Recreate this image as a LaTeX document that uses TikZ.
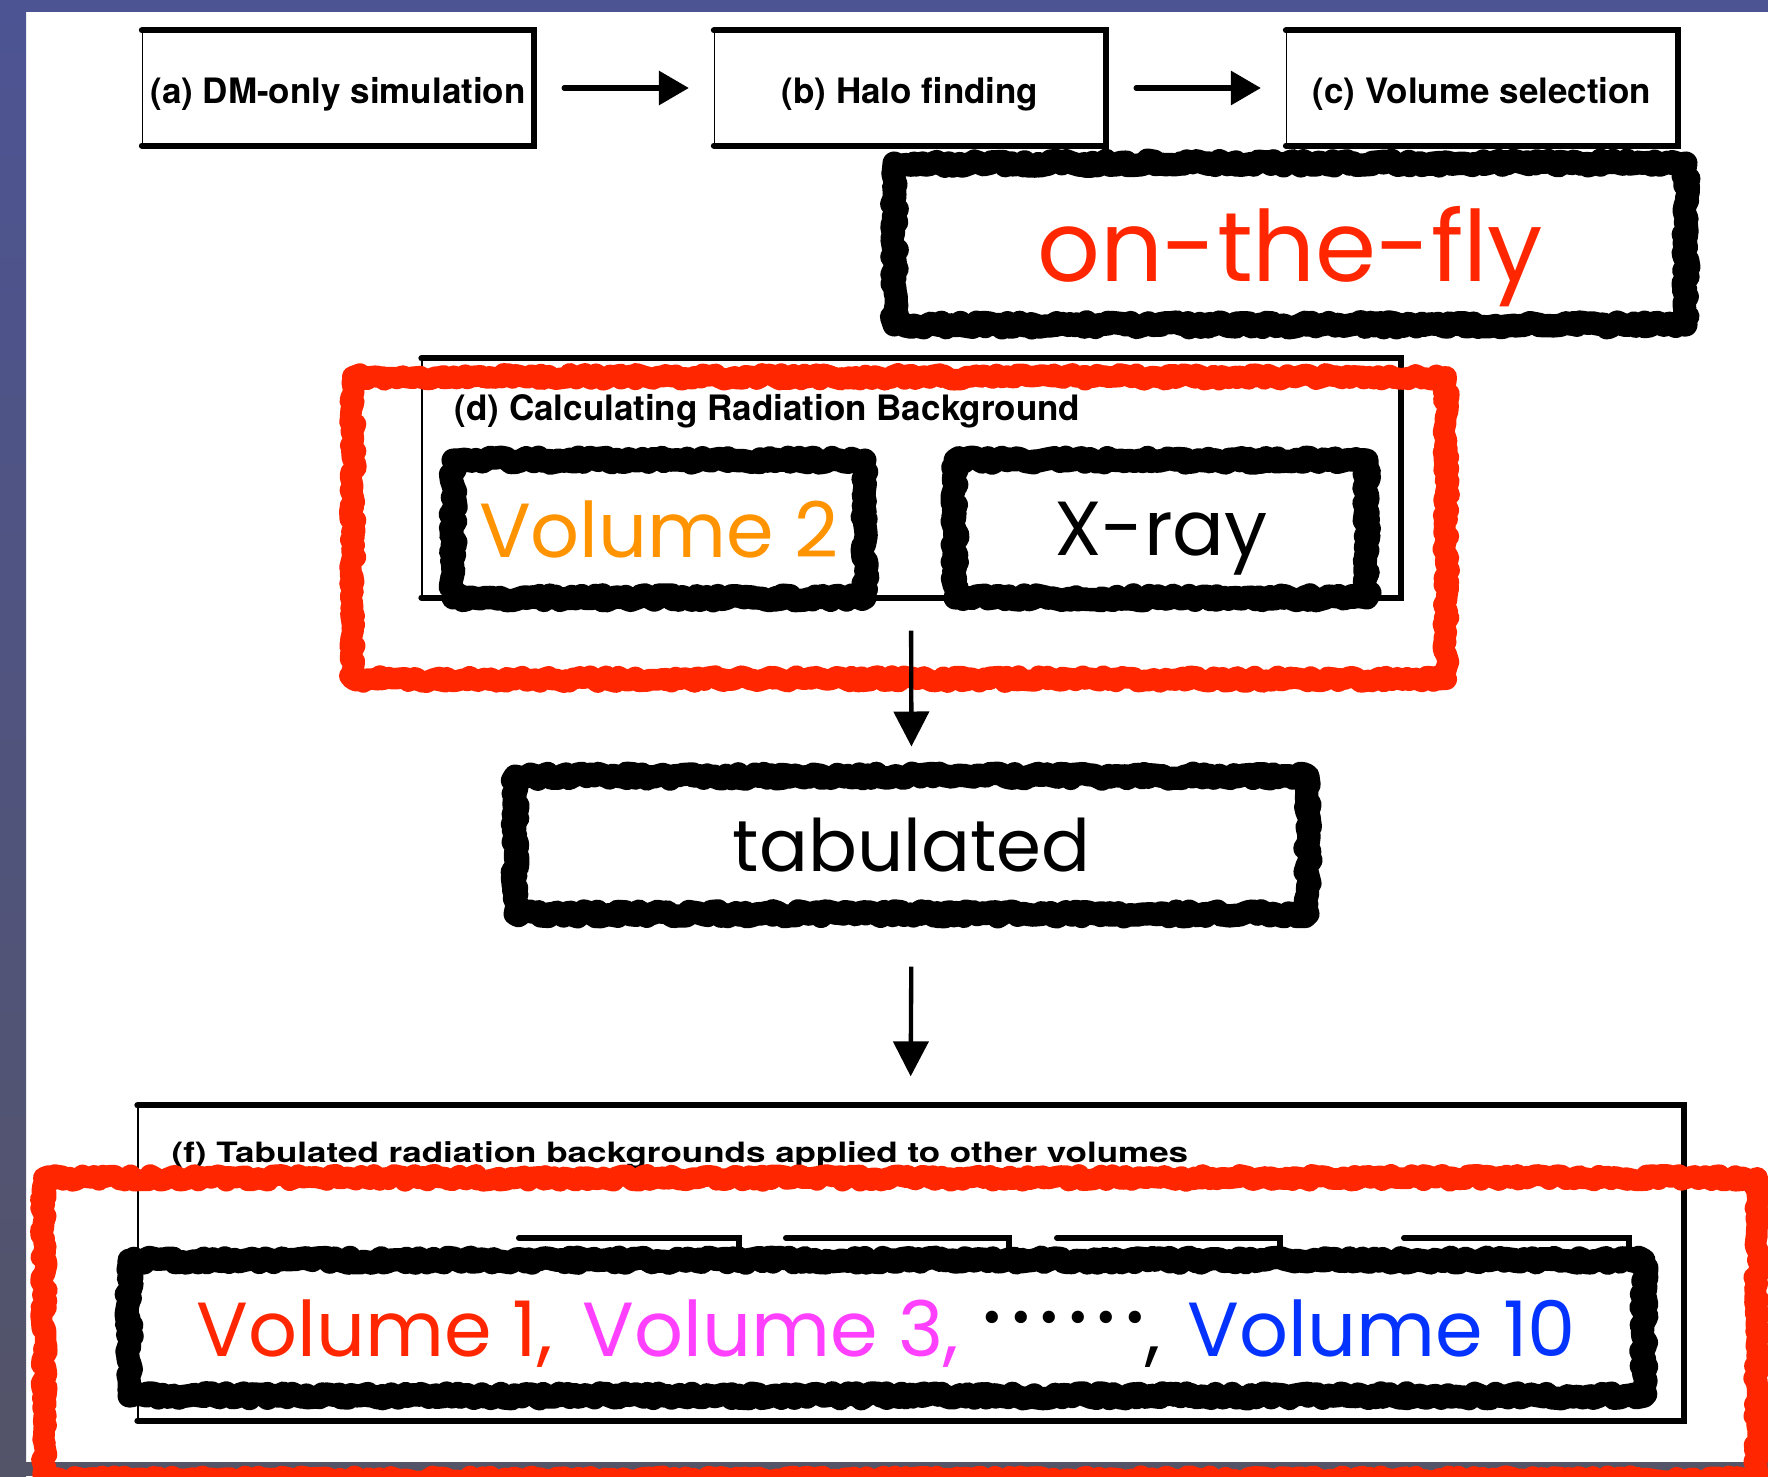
\documentclass[tikz,border=0pt]{standalone}
\usepackage{fontspec}
\setmainfont{TeX Gyre Heros}
\newfontfamily\roundfont{Poppins}
\usetikzlibrary{arrows.meta,decorations.pathmorphing}

\definecolor{slideblue}{RGB}{77,84,147}
\definecolor{slidegray}{RGB}{83,84,104}
\definecolor{keyred}{RGB}{255,38,0}
\definecolor{keyorange}{RGB}{255,147,0}
\definecolor{keymagenta}{RGB}{255,64,255}
\definecolor{keyblue}{RGB}{4,51,255}

\tikzset{
  stage/.style={draw, line width=0.4pt, inner sep=0pt, font=\fontsize{10.5}{12}\selectfont\bfseries},
  heavy/.style={line width=1.8pt, line cap=round},
  roughbox/.style={draw, line width=7pt, line join=round, inner sep=0pt, decorate,
    decoration={random steps, segment length=1.2pt, amplitude=0.9pt}},
  redframe/.style={roughbox, draw=keyred, line width=6.5pt},
  bigtext/.style={font=\roundfont\fontsize{23}{27}\selectfont, text depth=0pt},
  sideflow/.style={-{Triangle[length=9pt,width=10pt]}, line width=1.6pt, line cap=round},
  downflow/.style={-{Triangle[length=10.5pt,width=10.5pt]}, line width=1.3pt},
}

\begin{document}
\begin{tikzpicture}[x=0.3pt, y=-0.3pt]
    \pgfmathsetseed{3}
    \useasboundingbox (0,0) rectangle (1768,1476);
    \clip (0,0) rectangle (1768,1476);

    % Slide background
    \fill[white] (0,0) rectangle (1768,1476);
    \fill[slideblue] (0,0) rectangle (1768,12);
    \shade[top color=slideblue, bottom color=slidegray] (0,0) rectangle (26,1476);
    \fill[slidegray] (0,1462) rectangle (1768,1476);

    % Pipeline stages
    \node[stage, minimum width=117.3pt, minimum height=34.2pt] (sim) at (338,88) {};
    \node[stage, minimum width=117.3pt, minimum height=34.2pt] (halo) at (910,88) {};
    \node[stage, minimum width=117.3pt, minimum height=34.2pt] (select) at (1482,88) {};
    \node[stage, draw=none] (simtext) at (338,94) {(a) DM-only simulation};
    \node[stage, draw=none] (halotext) at (910,94) {(b) Halo finding};
    \node[stage, draw=none] (selecttext) at (1482,94) {(c) Volume selection};
    \foreach \n in {sim,halo,select}
        \draw[heavy] (\n.north west) -- (\n.north east) -- (\n.south east) -- (\n.south west);

    \draw[sideflow, shorten <=9pt, shorten >=7.5pt] (sim) -- (halo);
    \draw[sideflow, shorten <=9pt, shorten >=7.5pt] (halo) -- (select);

    \node[roughbox, minimum width=237.5pt, minimum height=48.5pt, bigtext,
          font=\roundfont\fontsize{29.5}{34}\selectfont, text=keyred] (fly) at (1290,244) {on-the-fly};

    % (d) radiation background
    \node[draw, line width=0.4pt, minimum width=293.4pt, minimum height=71.4pt] (calc) at (911,478) {};
    \draw[heavy] (calc.north west) -- (calc.north east) -- (calc.south east) -- (calc.south west);
    \node[anchor=west, inner sep=0pt, font=\fontsize{10.5}{12}\selectfont\bfseries] (calclabel) at (454,411) {(d) Calculating Radiation Background};
    \node[redframe, minimum width=328pt, minimum height=90.7pt] (calcred) at (899.5,528) {};
    \node[roughbox, minimum width=123.5pt, minimum height=41.3pt, bigtext, text=keyorange] (vol2) at (659,529) {Volume 2};
    \node[roughbox, minimum width=123.5pt, minimum height=41.3pt, bigtext] (xray) at (1161,529) {X-ray};

    \node[roughbox, minimum width=237.8pt, minimum height=41.3pt, bigtext,
          font=\roundfont\fontsize{21.7}{26}\selectfont] (tab) at (911.5,845) {tabulated};

    % (f) applied to other volumes
    \node[draw, line width=0.4pt, minimum width=463.5pt, minimum height=94.2pt] (apply) at (910.5,1263) {};
    \draw[heavy] (apply.north west) -- (apply.north east) -- (apply.south east) -- (apply.south west);
    \node[anchor=west, inner sep=0pt, font=\fontsize{10.5}{12}\selectfont\bfseries] (applylabel) at (171,1155)
        {\scalebox{1}[0.8]{(f) Tabulated radiation backgrounds applied to other volumes}};
    \foreach \xa/\xb in {519/739, 786/1009, 1057/1280, 1404/1629}
        \draw[heavy] (\xa,1238) -- (\xb,1238) -- (\xb,1252);
    \node[roughbox, minimum width=454.4pt, minimum height=40.7pt, bigtext] (vols) at (886.5,1328)
        {{\color{keyred}Volume 1,}\hspace{9pt}{\color{keymagenta}Volume 3,}\hspace{7pt}\raisebox{1.5pt}{{\fontsize{30}{30}\selectfont ·\kern2.2pt·\kern2.2pt·\kern2.2pt·\kern2.2pt·\kern2.2pt·}},\hspace{8pt}{\color{keyblue}Volume 10}};
    \node[redframe, minimum width=514pt, minimum height=90.4pt] (applyred) at (900.5,1328.5) {};

    \draw[downflow, shorten <=9.9pt, shorten >=5.4pt] (calc.south) -- (tab.north);
    \draw[downflow, shorten <=12.3pt, shorten >=8.7pt] (tab.south) -- (apply.north);
\end{tikzpicture}
\end{document}
